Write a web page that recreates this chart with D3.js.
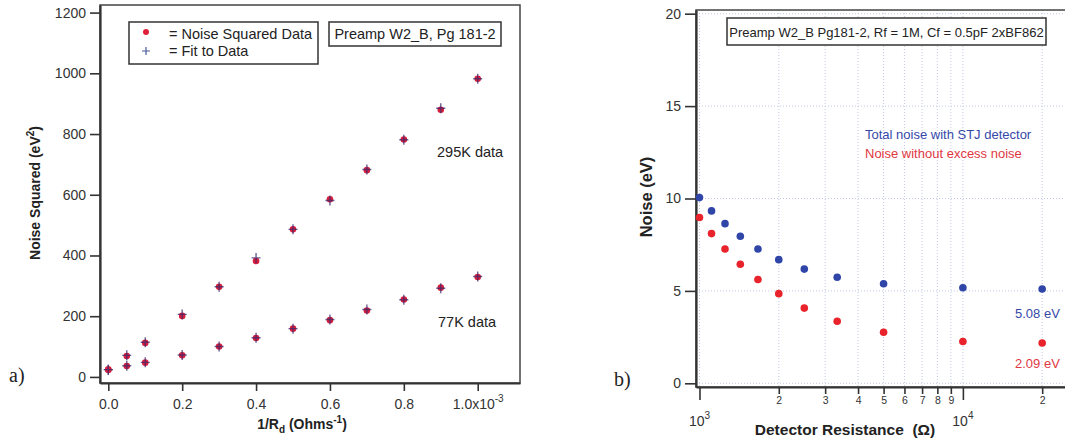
<!DOCTYPE html>
<html>
<head>
<meta charset="utf-8">
<script src="https://cdn.jsdelivr.net/npm/d3@7"></script>
<style>
  body { margin: 0; background: #fff; }
  svg { display: block; font-family: "Liberation Sans", Arial, sans-serif; }
  text { white-space: pre; }
  .tick text { fill: #333; }
</style>
</head>
<body>
<script>
// panel a) : noise squared vs 1/Rd (units of 1e-3 Ohms^-1)
const invR = [0, 0.05, 0.1, 0.2, 0.3, 0.4, 0.5, 0.6, 0.7, 0.8, 0.9, 1.0];
const noiseSq295 = [24, 69, 112, 201, 297, 382, 486, 585, 681, 782, 880, 982];
const fit295 = [24, 71, 114, 206, 297, 392, 486, 581, 683, 781, 885, 982];
const noiseSq77 = [24, 36, 47, 71, 100, 128, 159, 187, 219, 255, 294, 329];
const fit77 = [24, 37, 48, 72, 100, 129, 159, 189, 222, 254, 292, 331];
const yTicksA = [0, 200, 400, 600, 800, 1000, 1200];
const xTicksA = [0, 0.2, 0.4, 0.6, 0.8, 1.0];

// panel b) : noise vs detector resistance
const resistance = [1000, 1111, 1250, 1429, 1667, 2000, 2500, 3333, 5000, 10000, 20000];
const totalNoise = [10.05, 9.33, 8.64, 7.96, 7.27, 6.69, 6.18, 5.74, 5.39, 5.17, 5.1];
const noiseNoExcess = [8.97, 8.10, 7.27, 6.44, 5.62, 4.85, 4.07, 3.36, 2.76, 2.26, 2.18];
const yTicksB = [0, 5, 10, 15, 20];
const xTicksB = [1000, 2000, 3000, 4000, 5000, 6000, 7000, 8000, 9000, 10000, 20000];

const svg = d3.select("body").append("svg")
    .attr("width", 1065)
    .attr("height", 442);

// ---------- panel a ----------
const xa = d3.scaleLinear().domain([-0.0225, 1.1145]).range([100, 520]);
const ya = d3.scaleLinear().domain([-20, 1225]).range([383, 5]);

const ga = svg.append("g");

ga.append("rect")
    .attr("x", 100).attr("y", 5)
    .attr("width", 420).attr("height", 378)
    .attr("fill", "none").attr("stroke", "#444").attr("stroke-width", 1.5);

const yAxisA = ga.append("g")
    .attr("transform", "translate(100,0)")
    .call(d3.axisLeft(ya).tickValues(yTicksA).tickSize(10).tickPadding(4).tickSizeOuter(0)
        .tickFormat(d3.format("d")));

const xAxisA = ga.append("g")
    .attr("transform", "translate(0,383)")
    .call(d3.axisBottom(xa).tickValues(xTicksA).tickSize(8).tickPadding(8).tickSizeOuter(0)
        .tickFormat(d => d === 1 ? "1.0x10" : d3.format(".1f")(d)));

[yAxisA, xAxisA].forEach(ax => {
    ax.select(".domain").attr("stroke", "#333").attr("stroke-width", 2.2);
    ax.selectAll(".tick line").attr("stroke", "#333").attr("stroke-width", 1.6);
    ax.selectAll(".tick text").attr("font-size", 14).attr("font-family", "Liberation Sans, Arial, sans-serif");
});
xAxisA.selectAll(".tick text").filter(d => d === 1)
    .append("tspan").attr("dy", -7).attr("font-size", 10).text("-3");

function drawMarks(vals, fits) {
    ga.append("g").selectAll("circle")
        .data(invR)
        .join("circle")
        .attr("cx", d => xa(d))
        .attr("cy", (d, i) => ya(vals[i]))
        .attr("r", 3.3)
        .attr("fill", "#d81e3c");
    ga.append("g").selectAll("path")
        .data(invR)
        .join("path")
        .attr("d", (d, i) => {
            const cx = xa(d), cy = ya(fits[i]);
            return `M${cx - 4.5},${cy}H${cx + 4.5}M${cx},${cy - 5}V${cy + 5}`;
        })
        .attr("stroke", "#3b2a6e")
        .attr("stroke-opacity", 0.75)
        .attr("stroke-width", 1.4);
}
drawMarks(noiseSq295, fit295);
drawMarks(noiseSq77, fit77);

// legend
ga.append("rect")
    .attr("x", 129).attr("y", 22).attr("width", 189).attr("height", 42)
    .attr("fill", "#fff").attr("stroke", "#333").attr("stroke-width", 1.5);
ga.append("circle").attr("cx", 146).attr("cy", 32).attr("r", 3).attr("fill", "#e0203a");
ga.append("path").attr("d", "M142,51H150M146,47V55").attr("stroke", "#4a5a9a").attr("stroke-width", 1.2);
ga.append("text").attr("x", 169).attr("y", 38.5).attr("font-size", 14.5).attr("fill", "#222").text("= Noise Squared Data");
ga.append("text").attr("x", 169).attr("y", 56).attr("font-size", 14.5).attr("fill", "#222").text("= Fit to Data");

ga.append("rect")
    .attr("x", 329).attr("y", 22).attr("width", 172).attr("height", 24)
    .attr("fill", "#fff").attr("stroke", "#333").attr("stroke-width", 1.5);
ga.append("text").attr("x", 415).attr("y", 39).attr("text-anchor", "middle")
    .attr("font-size", 14.5).attr("fill", "#222").text("Preamp W2_B, Pg 181-2");

ga.append("text").attr("x", 437).attr("y", 157).attr("font-size", 14.5).attr("fill", "#222").text("295K data");
ga.append("text").attr("x", 438).attr("y", 327).attr("font-size", 14.5).attr("fill", "#222").text("77K data");

// axis titles
const ylabA = ga.append("text")
    .attr("transform", "translate(40,193) rotate(-90)")
    .attr("text-anchor", "middle").attr("font-size", 14).attr("font-weight", "bold").attr("fill", "#222");
ylabA.append("tspan").text("Noise Squared (eV");
ylabA.append("tspan").attr("dy", -6).attr("font-size", 10).text("2");
ylabA.append("tspan").attr("dy", 6).text(")");

const xlabA = ga.append("text")
    .attr("x", 302).attr("y", 429)
    .attr("text-anchor", "middle").attr("font-size", 14).attr("font-weight", "bold").attr("fill", "#222");
xlabA.append("tspan").text("1/R");
xlabA.append("tspan").attr("dy", 4).attr("font-size", 10).text("d");
xlabA.append("tspan").attr("dy", -4).text(" (Ohms");
xlabA.append("tspan").attr("dy", -6).attr("font-size", 10).text("-1");
xlabA.append("tspan").attr("dy", 6).text(")");

svg.append("text").attr("x", 9).attr("y", 382)
    .attr("font-family", "Liberation Serif, Times New Roman, serif").attr("font-size", 20).attr("fill", "#222").text("a)");

// ---------- panel b ----------
const xb = d3.scaleLog().domain([970, 30000]).range([696, 696 + 263.4 * Math.log10(30000 / 970)]);
const yb = d3.scaleLinear().domain([-0.2, 20.2]).range([387, 10]);

const gb = svg.append("g");

// grid
gb.append("g").selectAll("line.gx")
    .data(xTicksB)
    .join("line")
    .attr("x1", d => xb(d)).attr("x2", d => xb(d))
    .attr("y1", 10).attr("y2", 387)
    .attr("stroke", "#c3c9e6").attr("stroke-width", 1).attr("stroke-dasharray", "1,2");
gb.append("g").selectAll("line.gy")
    .data(yTicksB)
    .join("line")
    .attr("x1", 696).attr("x2", 1070)
    .attr("y1", d => yb(d)).attr("y2", d => yb(d))
    .attr("stroke", "#c3c9e6").attr("stroke-width", 1).attr("stroke-dasharray", "1,2");

gb.append("rect")
    .attr("x", 696).attr("y", 10)
    .attr("width", 400).attr("height", 377)
    .attr("fill", "none").attr("stroke", "#444").attr("stroke-width", 1.5);

const yAxisB = gb.append("g")
    .attr("transform", "translate(696,0)")
    .call(d3.axisLeft(yb).tickValues(yTicksB).tickSize(11).tickPadding(4).tickSizeOuter(0));

const xAxisB = gb.append("g")
    .attr("transform", "translate(0,387)")
    .call(d3.axisBottom(xb).tickValues(xTicksB).tickSizeOuter(0)
        .tickFormat(d => {
            const m = d / Math.pow(10, Math.floor(Math.log10(d) + 1e-9));
            return Math.round(m) === 1 ? "" : String(Math.round(m));
        }));

[yAxisB, xAxisB].forEach(ax => {
    ax.select(".domain").attr("stroke", "#333").attr("stroke-width", 2.2);
    ax.selectAll(".tick line").attr("stroke", "#333").attr("stroke-width", 1.6);
    ax.selectAll(".tick text").attr("font-family", "Liberation Sans, Arial, sans-serif");
});
yAxisB.selectAll(".tick text").attr("font-size", 14);
xAxisB.selectAll(".tick line")
    .attr("y2", d => (d === 1000 || d === 10000) ? 13 : 7);
xAxisB.selectAll(".tick text")
    .attr("font-size", 10.5).attr("y", 10);

// decade labels
[1000, 10000].forEach(d => {
    const t = gb.append("text")
        .attr("x", xb(d)).attr("y", 426)
        .attr("text-anchor", "middle").attr("font-size", 14).attr("fill", "#333");
    t.append("tspan").text("10");
    t.append("tspan").attr("dy", -7).attr("font-size", 10).text(String(Math.log10(d)));
});

gb.append("g").selectAll("circle")
    .data(resistance)
    .join("circle")
    .attr("cx", d => xb(d))
    .attr("cy", (d, i) => yb(totalNoise[i]))
    .attr("r", 3.8)
    .attr("fill", "#2f45a8");
gb.append("g").selectAll("circle")
    .data(resistance)
    .join("circle")
    .attr("cx", d => xb(d))
    .attr("cy", (d, i) => yb(noiseNoExcess[i]))
    .attr("r", 3.8)
    .attr("fill", "#e8232b");

gb.append("rect")
    .attr("x", 727).attr("y", 18).attr("width", 319).attr("height", 27)
    .attr("fill", "#fff").attr("stroke", "#333").attr("stroke-width", 1.5);
gb.append("text").attr("x", 886.5).attr("y", 36.5).attr("text-anchor", "middle")
    .attr("font-size", 13).attr("fill", "#222").text("Preamp W2_B Pg181-2, Rf = 1M, Cf = 0.5pF 2xBF862");

gb.append("text").attr("x", 865).attr("y", 138.5).attr("font-size", 13).attr("fill", "#3548a8")
    .text("Total noise with STJ detector");
gb.append("text").attr("x", 865).attr("y", 157.5).attr("font-size", 13).attr("fill", "#e0383f")
    .text("Noise without excess noise");
gb.append("text").attr("x", 1015).attr("y", 318).attr("font-size", 13).attr("fill", "#3548a8").text("5.08 eV");
gb.append("text").attr("x", 1015).attr("y", 368).attr("font-size", 13).attr("fill", "#e0383f").text("2.09 eV");

gb.append("text")
    .attr("transform", "translate(652,197) rotate(-90)")
    .attr("text-anchor", "middle").attr("font-size", 16.5).attr("font-weight", "bold").attr("fill", "#222")
    .text("Noise (eV)");

gb.append("text").attr("x", 845).attr("y", 435)
    .attr("text-anchor", "middle").attr("font-size", 15.5).attr("font-weight", "bold").attr("fill", "#222")
    .text("Detector Resistance  (Ω)");

svg.append("text").attr("x", 614).attr("y", 386)
    .attr("font-family", "Liberation Serif, Times New Roman, serif").attr("font-size", 20).attr("fill", "#222").text("b)");
</script>
</body>
</html>
